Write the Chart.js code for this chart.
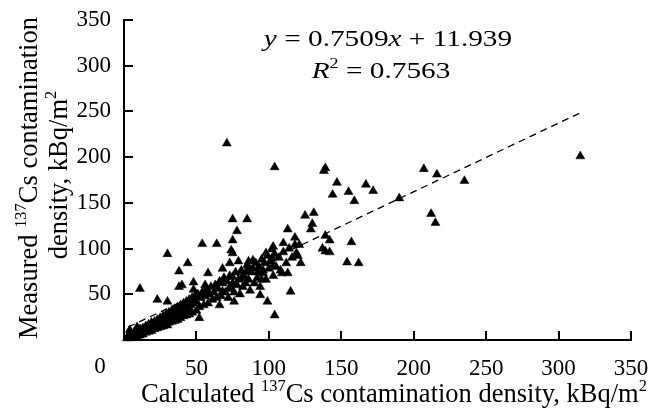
<!DOCTYPE html>
<html><head><meta charset="utf-8">
<script src="https://cdn.jsdelivr.net/npm/chart.js@4/dist/chart.umd.min.js"></script>
<style>html,body{margin:0;padding:0;background:#fff}</style>
</head><body>
<canvas id="c" width="651" height="411"></canvas>
<script>
// Calculated (x) and measured (y) 137Cs contamination density, kBq/m2
const calculated = [
71,104,139,138,147,144,155,159,167,172,190,207,216,235,212,215,315,157,154,162,142,142,
75,85,78,125,131,130,129,113,139,54,64,75,30,11,44,38,40,38,48,58,68,75,73,79,86,85,89,
96,98,102,102,110,109,113,119,122,137,139,115,94,99,104,76,73,68,66,57,52,48,23,30,30,44,
74,103,75,81,86,103,95,92.5,56,4,9,118,121,
2,3,4,5,5,6,7,7,8,9,9,10,11,11,12,13,13,14,15,15,16,17,17,18,19,19,20,21,21,22,23,23,24,
25,25,26,27,27,28,29,29,30,31,31,32,33,33,34,35,35,36,37,37,38,39,39,40,41,41,42,43,43,44,
45,45,46,47,47,48,49,50,50,51,52,53,54,55,56,57,58,59,60,61,62,63,64,65,66,67,68,69,70,71,
72,73,74,75,76,77,78,79,80,81,82,83,84,85,86,87,88,89,90,91,92,93,94,95,96,97,98,99,100,101,
103,104,105,107,108,110,112,114,116,118,120
];
const measured = [
215,189,188,185,172,159,162,152,170,163,155,187,181,174,138,128,201,107,85,84,109,96,
132,132,119,136,139,127,121,121,114,105,105,109,94,56,84,75,60,58,63,73,78,95,84,86,86,75,87,
73,95,99,89,106,73,73,95,84,100,97,53,49,42,27,42,58,53,38,56,24,55,44,42,16,29,
98,102,69,67,80,82,66,74,60,11,14,112,104,
2,5,3,7,2,5,8,3,6,10,4,8,12,5,9,13,6,11,15,8,12,17,9,14,19,10,15,20,12,17,22,13,18,
24,14,20,26,15,21,28,17,23,30,19,25,32,20,27,34,21,28,36,22,30,38,24,32,40,26,34,42,27,36,
44,28,38,46,30,40,48,32,42,50,36,46,52,38,48,54,40,50,58,44,52,60,46,56,64,48,62,68,52,64,
46,70,56,62,52,74,60,66,50,76,58,70,62,82,66,54,74,78,62,84,68,80,58,88,76,84,66,92,78,86,
70,94,80,90,76,96,84,100,90,104,92
];
const xTicks = [0,50,100,150,200,250,300,350];
const yTicks = [0,50,100,150,200,250,300,350];
// Trend line end points (y = 0.7509x + 11.939)
const trendX = [3, 315];
const trendY = [14.2, 248.5];

const SERIF = '"Liberation Serif","Times New Roman",serif';
const TICK_SIZE = 23;
const TITLE_SIZE = 26.5;
const EQ_SIZE = 24;
const EQ_STRETCH = 1.22;

function segFont(s, size){
  const fs = s.sup ? size*0.62 : size;
  return (s.it ? 'italic ' : '') + fs + 'px ' + SERIF;
}
function drawRich(ctx, segs, cx, cy, size, sx){
  sx = sx || 1;
  let w = 0;
  for (const s of segs){ ctx.font = segFont(s, size); w += ctx.measureText(s.t).width; }
  ctx.save();
  ctx.translate(cx, cy);
  ctx.scale(sx, 1);
  let x = -w/2;
  const base = size*0.33;
  ctx.textBaseline = 'alphabetic';
  ctx.textAlign = 'left';
  ctx.fillStyle = '#000';
  for (const s of segs){
    ctx.font = segFont(s, size);
    ctx.fillText(s.t, x, s.sup ? base - size*0.4 : base);
    x += ctx.measureText(s.t).width;
  }
  ctx.restore();
}

const decorations = {
  id: 'decorations',
  afterDraw(chart){
    const ctx = chart.ctx;
    const xs = chart.scales.x, ys = chart.scales.y;
    const ca = chart.chartArea;
    ctx.save();
    // inward tick marks
    ctx.strokeStyle = '#000';
    ctx.lineWidth = 2;
    ctx.beginPath();
    xs.ticks.forEach((t,i) => {
      const px = Math.round(xs.getPixelForTick(i));
      ctx.moveTo(px, ca.bottom); ctx.lineTo(px, ca.bottom - 9);
    });
    ys.ticks.forEach((t,i) => {
      const py = Math.round(ys.getPixelForTick(i));
      ctx.moveTo(ca.left, py); ctx.lineTo(ca.left + 9, py);
    });
    ctx.stroke();
    // shared origin label
    ctx.font = TICK_SIZE + 'px ' + SERIF;
    ctx.fillStyle = '#000';
    ctx.textAlign = 'center';
    ctx.textBaseline = 'middle';
    ctx.fillText(String(xTicks[0]), ca.left - 24, ca.bottom + 27);
    // equation
    drawRich(ctx, [{t:'y',it:true},{t:' = 0.7509'},{t:'x',it:true},{t:' + 11.939'}], ca.left + 264, ca.top + 18, EQ_SIZE, EQ_STRETCH);
    drawRich(ctx, [{t:'R',it:true},{t:'2',sup:true},{t:' = 0.7563'}], ca.left + 257, ca.top + 50, EQ_SIZE, EQ_STRETCH);
    // x title
    drawRich(ctx, [{t:'Calculated '},{t:'137',sup:true},{t:'Cs contamination density, kBq/m'},{t:'2',sup:true}], ca.left + 270, ca.bottom + 53, TITLE_SIZE);
    // y title (two lines, rotated)
    ctx.save();
    ctx.translate(28, ca.top + 158);
    ctx.rotate(-Math.PI/2);
    drawRich(ctx, [{t:'Measured '},{t:'137',sup:true},{t:'Cs contamination'}], 0, 0, TITLE_SIZE);
    ctx.restore();
    ctx.save();
    ctx.translate(58, ca.top + 155);
    ctx.rotate(-Math.PI/2);
    drawRich(ctx, [{t:'density, kBq/m'},{t:'2',sup:true}], 0, 0, TITLE_SIZE);
    ctx.restore();
    ctx.restore();
  }
};

const points = calculated.map((x,i) => ({x, y: measured[i]}));
const trend = trendX.map((x,i) => ({x, y: trendY[i]}));

new Chart(document.getElementById('c'), {
  type: 'scatter',
  data: {
    datasets: [
      {
        label: 'Trend',
        type: 'line',
        data: trend,
        borderColor: '#000',
        borderWidth: 1.3,
        borderDash: [7,5],
        pointRadius: 0,
        fill: false,
        clip: false
      },
      {
        label: 'Measured',
        data: points,
        pointStyle: 'triangle',
        pointRadius: 5.2,
        pointHoverRadius: 5.2,
        backgroundColor: '#000',
        borderColor: '#000',
        borderWidth: 0.5,
        clip: false
      }
    ]
  },
  options: {
    responsive: false,
    devicePixelRatio: 1,
    animation: false,
    events: [],
    layout: { padding: { left: 0, right: 20, top: 20, bottom: 0 } },
    plugins: { legend: { display: false }, tooltip: { enabled: false } },
    scales: {
      x: {
        type: 'linear', min: 0, max: 350,
        afterBuildTicks(s){ s.ticks = xTicks.map(v => ({value: v})); },
        afterFit(s){ s.height = 71; s.paddingLeft = 0; s.paddingRight = 0; },
        grid: { display: false, drawTicks: false },
        border: { display: true, color: '#000', width: 2 },
        ticks: {
          padding: 15, color: '#000',
          font: { family: SERIF, size: TICK_SIZE },
          callback: v => v === 0 ? '' : String(v)
        }
      },
      y: {
        type: 'linear', min: 0, max: 350,
        afterBuildTicks(s){ s.ticks = yTicks.map(v => ({value: v})); },
        afterFit(s){ s.width = 124; s.paddingTop = 0; s.paddingBottom = 0; },
        grid: { display: false, drawTicks: false },
        border: { display: true, color: '#000', width: 2 },
        ticks: {
          padding: 13, color: '#000',
          font: { family: SERIF, size: TICK_SIZE },
          callback: v => v === 0 ? '' : String(v)
        }
      }
    }
  },
  plugins: [decorations]
});
</script>
</body></html>
